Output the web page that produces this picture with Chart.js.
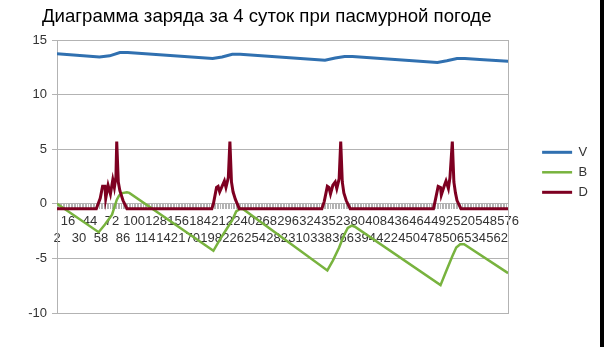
<!DOCTYPE html>
<html>
<head>
<meta charset="utf-8">
<script src="https://cdn.jsdelivr.net/npm/chart.js@4"></script>
<style>
  html, body { margin: 0; padding: 0; background: #000; }
  #wrap { width: 600px; height: 347px; background: #fff; position: relative; }
</style>
</head>
<body>
<div id="wrap"><canvas id="grafico"></canvas></div>
<script>
// --- DATI ---
const titolo = 'Диаграмма заряда за 4 суток при пасмурной погоде';

// etichette dell'asse X (una ogni 14 campioni)
const xLabels = [2, 16, 30, 44, 58, 72, 86, 100, 114, 128, 142, 156, 170, 184, 198, 212, 226, 240, 254, 268, 282,
  296, 310, 324, 338, 352, 366, 380, 394, 408, 422, 436, 450, 464, 478, 492, 506, 520, 534, 548, 562, 576];

// V - tensione
const vX = [2, 56, 69, 82, 92, 200, 212, 225, 235, 343, 356, 368, 378, 486, 498, 511, 521, 540, 576];
const vY = [13.75, 13.45, 13.55, 13.85, 13.85, 13.3, 13.45, 13.7, 13.7, 13.15, 13.35, 13.5, 13.5, 12.95, 13.1, 13.3, 13.3, 13.22, 13.05];

// B - bilancio carica
const bX = [2, 55, 63, 72, 78, 81, 85, 91, 94, 201, 209, 217, 225, 230, 235, 239, 346, 353, 361, 367, 372, 377, 381, 490, 497, 505, 510, 515, 520, 576];
const bY = [0, -2.6, -1.9, -1.0, 0.35, 0.75, 0.98, 1.05, 1.0, -4.3, -3.3, -2.4, -1.5, -0.7, -0.45, -0.5, -6.1, -5.2, -4.0, -2.9, -2.2, -2.0, -2.1, -7.45, -6.2, -4.8, -4.0, -3.7, -3.7, -6.35];

// D - corrente di carica
const dX = [2, 52, 57, 60, 63, 64, 67, 70, 73, 75, 77, 78, 80, 82, 86, 91,
  199, 201, 205, 207, 209, 212, 215, 217, 220, 222, 224, 226, 229, 234,
  339, 342, 346, 348, 350, 353, 356, 358, 361, 363, 365, 367, 370, 375,
  481, 483, 487, 490, 491, 495, 497, 500, 502, 505, 507, 509, 511, 516, 576];
const dY = [-0.45, -0.45, 0.5, 1.6, 1.6, 0.5, 1.7, 0.9, 2.2, 1.5, 2.5, 5.7, 2.0, 1.2, 0.3, -0.45,
  -0.45, 0.0, 1.5, 1.6, 1.1, 1.6, 2.1, 1.5, 2.4, 5.7, 2.0, 1.1, 0.4, -0.45,
  -0.45, 0.2, 1.6, 1.5, 0.9, 1.7, 2.0, 1.4, 2.3, 5.7, 2.0, 1.0, 0.3, -0.45,
  -0.45, 0.2, 1.6, 1.5, 0.8, 1.7, 2.1, 1.4, 2.4, 5.7, 2.0, 1.0, 0.3, -0.45, -0.45];

// --- COSTRUZIONE ---
const punti = (xs, ys) => xs.map((x, i) => ({ x: x, y: ys[i] }));

// tacche fitte sull'asse X, ogni 2 campioni
const tacche = [];
for (let v = xLabels[0]; v <= xLabels[xLabels.length - 1]; v += 2) tacche.push(v);

const GRIGIO = '#b3b3b3';
const TESTO = '#333333';
Chart.defaults.font.family = "'Liberation Sans', Arial, sans-serif";
Chart.defaults.font.size = 13;
Chart.defaults.color = TESTO;

// il titolo parte un po' a destra del bordo sinistro
const spostaTitolo = {
  id: 'spostaTitolo',
  afterLayout(chart) { chart.titleBlock.left = 42; }
};

new Chart(document.getElementById('grafico'), {
  type: 'line',
  data: {
    datasets: [
      { label: 'V', data: punti(vX, vY), borderColor: '#3070b0', borderWidth: 3, order: 2 },
      { label: 'B', data: punti(bX, bY), borderColor: '#78b33e', borderWidth: 2.5, order: 1 },
      { label: 'D', data: punti(dX, dY), borderColor: '#7e0021', borderWidth: 3, order: 0 }
    ]
  },
  options: {
    responsive: true,
    maintainAspectRatio: false,
    animation: false,
    elements: { point: { radius: 0 }, line: { tension: 0 } },
    layout: { padding: { left: 17, right: 2, top: 0, bottom: 34 } },
    plugins: {
      tooltip: { enabled: false },
      title: {
        display: true,
        text: titolo,
        align: 'start',
        color: '#000',
        font: { size: 18.6, weight: 'normal' },
        padding: { top: 6, bottom: 11.7 }
      },
      legend: {
        position: 'right',
        title: { display: true, text: '', padding: { top: 8, bottom: 8 } },
        labels: {
          usePointStyle: true,
          pointStyle: 'line',
          pointStyleWidth: 30,
          padding: 7,
          color: TESTO,
          sort: (a, b) => a.datasetIndex - b.datasetIndex
        }
      }
    },
    scales: {
      x: {
        type: 'linear',
        min: xLabels[0],
        max: xLabels[xLabels.length - 1],
        position: { y: 0 },
        afterBuildTicks: (s) => { s.ticks = tacche.map(v => ({ value: v })); },
        grid: { drawOnChartArea: false, color: GRIGIO, tickLength: 5 },
        border: { color: GRIGIO },
        ticks: {
          autoSkip: false,
          maxRotation: 0,
          padding: 4,
          font: { lineHeight: '17px' },
          callback: (v) => {
            const i = xLabels.indexOf(v);
            if (i < 0) return '';
            return i % 2 ? [String(v)] : ['', String(v)];
          }
        }
      },
      y: {
        min: -10,
        max: 15,
        afterFit: (s) => { s.width = 40; },
        ticks: { stepSize: 5, padding: 5 },
        grid: { color: GRIGIO, tickLength: 5 },
        border: { color: GRIGIO }
      },
      y2: {
        position: 'right',
        min: -10,
        max: 15,
        afterFit: (s) => { s.width = 27; },
        ticks: { display: false },
        grid: { drawOnChartArea: false, drawTicks: false },
        border: { color: GRIGIO }
      }
    }
  },
  plugins: [spostaTitolo]
});
</script>
</body>
</html>
